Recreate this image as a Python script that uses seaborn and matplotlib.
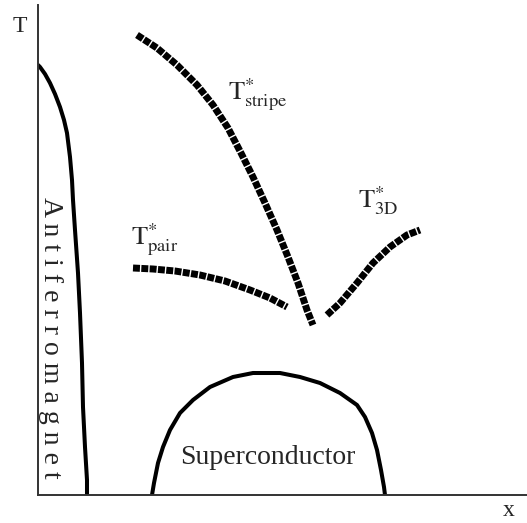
import numpy as np
import pandas as pd
import matplotlib
matplotlib.use("Agg")
import matplotlib.pyplot as plt
import seaborn as sns

# schematic phase diagram (arbitrary units: x = doping, T = temperature)
afm_x = [0, 2, 7, 12, 17, 22, 26, 29, 32, 34, 35, 37, 40, 42, 44, 45, 47, 49, 49]
afm_T = [430, 428, 421, 412, 401, 388, 375, 362, 338, 315, 295, 265, 222, 182, 132, 88, 48, 15, 0]

sc_x = [114, 116, 120, 125, 132, 142, 155, 172, 195, 215, 242, 262, 282, 302, 319, 327, 334, 339, 343, 346, 347]
sc_T = [0, 12, 32, 48, 65, 82, 95, 108, 118, 122, 122, 118, 112, 102, 90, 78, 62, 45, 25, 8, 0]

stripe_x = [99, 119, 139, 159, 175, 190, 203, 215, 227, 239, 250, 260, 269, 275]
stripe_T = [460, 447, 430, 410, 390, 367, 342, 318, 292, 265, 238, 212, 185, 170]

pair_x = [95, 115, 137, 162, 187, 212, 232, 249]
pair_T = [227, 226, 224, 220, 214, 205, 197, 188]

d3_x = [289, 302, 319, 335, 352, 369, 382]
d3_T = [180, 192, 212, 232, 248, 260, 265]

sns.set_theme(style="white")
plt.rcParams['font.family'] = ['Liberation Serif', 'DejaVu Serif']
plt.rcParams['mathtext.fontset'] = 'stix'

fig = plt.figure(figsize=(5.27, 5.23), dpi=100)
ax = fig.add_axes([38 / 527, 28 / 523, 489 / 527, 490 / 523])

solid = dict(color='black', linewidth=2.9, sort=False, estimator=None)
sns.lineplot(x=afm_x, y=afm_T, ax=ax, **solid)
sns.lineplot(x=sc_x, y=sc_T, ax=ax, **solid)

# the crossover lines are drawn as thick, closely hatched dashes
dashed = dict(color='black', linewidth=5.0, sort=False, estimator=None)
for xs, ts in [(stripe_x, stripe_T), (pair_x, pair_T), (d3_x, d3_T)]:
    sns.lineplot(x=xs, y=ts, ax=ax, linestyle=(0, (1.0, 0.2)), **dashed)

ax.set_xlim(0, 489)
ax.set_ylim(0, 490)
ax.set_xticks([])
ax.set_yticks([])
for side in ['top', 'right']:
    ax.spines[side].set_visible(False)
for side in ['left', 'bottom']:
    ax.spines[side].set_color('#333333')
    ax.spines[side].set_linewidth(1.4)

ax.text(-18, 468, 'T', fontsize=17, ha='center', va='center', clip_on=False)
ax.text(471, -16, 'x', fontsize=17, ha='center', va='center', clip_on=False)

ax.text(190, 400, r'$\mathrm{T}^{*}_{\mathrm{stripe}}$', fontsize=19, ha='left', va='center')
ax.text(93, 255, r'$\mathrm{T}^{*}_{\mathrm{pair}}$', fontsize=19, ha='left', va='center')
ax.text(320, 294, r'$\mathrm{T}^{*}_{\mathrm{3D}}$', fontsize=19, ha='left', va='center')

ax.text(12, 157, 'A n t i f e r r o m a g n e t', fontsize=20, rotation=-90,
        ha='center', va='center')
ax.text(230, 37, 'Superconductor', fontsize=20, ha='center', va='center')

fig.savefig('out.png', dpi=100)
